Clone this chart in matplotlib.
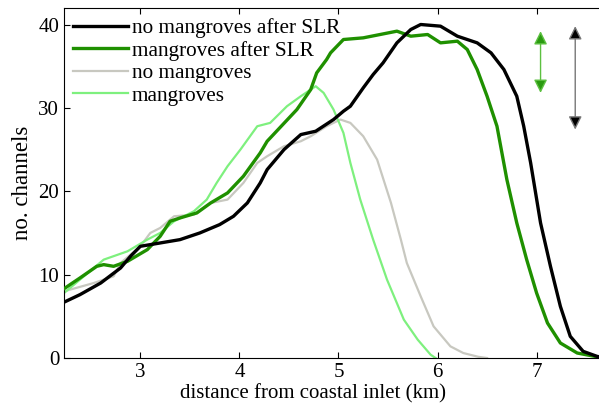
import matplotlib.pyplot as plt
import numpy as np

plt.rcParams['font.family'] = ['Liberation Serif', 'DejaVu Serif']

# no mangroves after SLR (black)
x_noman_slr = [2.23, 2.39, 2.6, 2.8, 2.9, 3.0, 3.2, 3.4, 3.6, 3.8, 3.94, 4.08, 4.21, 4.28,
               4.45, 4.62, 4.77, 4.95, 5.05, 5.12, 5.25, 5.35, 5.45, 5.59, 5.73, 5.83,
               6.03, 6.2, 6.4, 6.54, 6.67, 6.8, 6.87, 6.94, 7.04, 7.14, 7.24, 7.34, 7.47, 7.61, 7.7]
y_noman_slr = [6.7, 7.6, 9.0, 10.8, 12.2, 13.4, 13.8, 14.2, 15.0, 16.0, 17.0, 18.6, 21.0, 22.6,
               25.0, 26.8, 27.2, 28.6, 29.6, 30.2, 32.4, 34.0, 35.4, 37.8, 39.4, 40.0,
               39.8, 38.6, 37.8, 36.6, 34.6, 31.4, 27.8, 23.4, 16.2, 11.0, 6.2, 2.6, 0.8, 0.2, 0.0]

# mangroves after SLR (dark green)
x_man_slr = [2.19, 2.39, 2.56, 2.63, 2.73, 2.87, 3.07, 3.2, 3.3, 3.4, 3.57, 3.71, 3.88, 4.04,
             4.21, 4.28, 4.58, 4.72, 4.78, 4.88, 4.92, 5.05, 5.25, 5.42, 5.59, 5.73, 5.9,
             6.03, 6.2, 6.3, 6.4, 6.5, 6.6, 6.7, 6.8, 6.9, 7.0, 7.11, 7.24, 7.41, 7.61, 7.7]
y_man_slr = [8.0, 9.6, 11.0, 11.2, 11.0, 11.6, 13.0, 14.6, 16.4, 16.8, 17.4, 18.6, 19.8, 21.8,
             24.6, 26.0, 29.8, 32.2, 34.2, 35.8, 36.6, 38.2, 38.4, 38.8, 39.2, 38.6, 38.8,
             37.8, 38.0, 37.0, 34.6, 31.4, 27.8, 21.4, 16.2, 11.8, 7.8, 4.2, 1.8, 0.6, 0.15, 0.0]

# no mangroves (grey)
x_noman = [2.23, 2.53, 2.73, 2.8, 3.0, 3.1, 3.2, 3.34, 3.54, 3.71, 3.88, 4.04, 4.18, 4.28,
           4.45, 4.62, 4.72, 4.88, 5.02, 5.12, 5.25, 5.39, 5.53, 5.63, 5.69, 5.83, 5.96,
           6.13, 6.26, 6.41, 6.5]
y_noman = [8.0, 9.0, 9.8, 11.4, 13.4, 15.0, 15.6, 17.0, 17.2, 18.6, 19.0, 21.0, 23.4, 24.2,
           25.4, 26.0, 26.6, 27.8, 28.6, 28.2, 26.6, 23.8, 18.6, 14.2, 11.4, 7.4, 3.8,
           1.4, 0.6, 0.15, 0.0]

# mangroves (light green)
x_man = [2.23, 2.39, 2.63, 2.87, 3.07, 3.2, 3.34, 3.54, 3.67, 3.77, 3.88, 4.01, 4.18, 4.31,
         4.48, 4.62, 4.77, 4.85, 4.95, 5.05, 5.12, 5.22, 5.35, 5.49, 5.66, 5.8, 5.93, 5.98]
y_man = [7.8, 9.4, 11.8, 12.8, 14.2, 15.0, 16.4, 17.6, 19.0, 21.0, 23.0, 25.0, 27.8, 28.2,
         30.2, 31.4, 32.6, 31.8, 29.8, 27.0, 23.4, 19.0, 14.2, 9.4, 4.6, 2.2, 0.4, 0.0]

# range arrows: (x, y_top, y_bottom)
arrow_man = (7.04, 39.2, 31.8)
arrow_noman = (7.39, 39.8, 27.4)

fig = plt.figure(figsize=(5.99, 4.12), dpi=100)
ax = fig.add_axes([0.107, 0.131, 0.893, 0.85])

ax.plot(x_noman_slr, y_noman_slr, color='black', lw=2.4, label='no mangroves after SLR', zorder=4)
ax.plot(x_man_slr, y_man_slr, color='#1f9000', lw=2.4, label='mangroves after SLR', zorder=3)
ax.plot(x_noman, y_noman, color='#c8c8c0', lw=1.6, label='no mangroves', zorder=2)
ax.plot(x_man, y_man, color='#7ef07e', lw=1.6, label='mangroves', zorder=2)

ax.annotate('', xy=(arrow_man[0], arrow_man[1]), xytext=(arrow_man[0], arrow_man[2]),
            arrowprops=dict(arrowstyle='<|-|>', fc='#2a9a10', ec='#5cc040', lw=1.0,
                            mutation_scale=20, shrinkA=0, shrinkB=0))
ax.annotate('', xy=(arrow_noman[0], arrow_noman[1]), xytext=(arrow_noman[0], arrow_noman[2]),
            arrowprops=dict(arrowstyle='<|-|>', fc='black', ec='#777777', lw=1.0,
                            mutation_scale=20, shrinkA=0, shrinkB=0))

ax.set_xlim(2.23, 7.63)
ax.set_ylim(0, 42)
ax.set_xticks([3, 4, 5, 6, 7])
ax.set_yticks([0, 10, 20, 30, 40])
ax.tick_params(direction='in', length=4, top=True, labelsize=15, width=0.8)
ax.spines['right'].set_visible(False)
for s in ['left', 'top', 'bottom']:
    ax.spines[s].set_linewidth(0.8)

ax.set_xlabel('distance from coastal inlet (km)', fontsize=15, labelpad=4)
ax.xaxis.set_label_coords(0.465, -0.075)
ax.set_ylabel('no. channels', fontsize=16.5, labelpad=4)

ax.legend(loc='upper left', frameon=False, fontsize=15.3, handlelength=2.6,
          handletextpad=0.2, labelspacing=0.13, borderaxespad=0.0,
          bbox_to_anchor=(0.0, 0.995))

fig.savefig('out.png', dpi=100)
